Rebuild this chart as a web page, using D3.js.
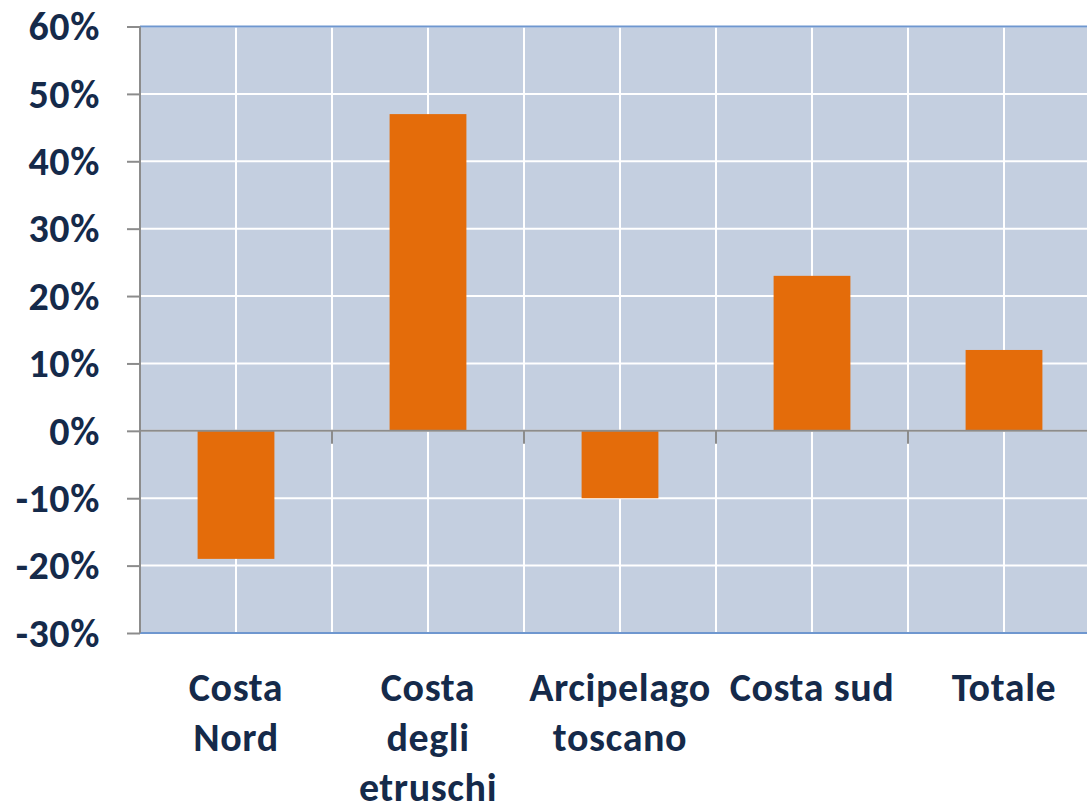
<!DOCTYPE html>
<html>
<head>
<meta charset="utf-8">
<script src="https://cdn.jsdelivr.net/npm/d3@7/dist/d3.min.js"></script>
<style>
  html, body { margin: 0; padding: 0; background: #ffffff; }
  svg { display: block; }
  text { font-family: Carlito, Calibri, Lato, sans-serif; font-weight: 700; fill: #152a4a; }
</style>
</head>
<body>
<svg id="chart" width="1087" height="805"></svg>
<script>
const categories = ["Costa Nord", "Costa degli etruschi", "Arcipelago toscano", "Costa sud", "Totale"];
const labelLines = [["Costa", "Nord"], ["Costa", "degli", "etruschi"], ["Arcipelago", "toscano"], ["Costa sud"], ["Totale"]];
const values = [-0.19, 0.47, -0.10, 0.23, 0.12];
const yTicks = [-0.3, -0.2, -0.1, 0, 0.1, 0.2, 0.3, 0.4, 0.5, 0.6];

const svg = d3.select("#chart");
const pLeft = 140, pRight = 1100, pTop = 26.5, pBottom = 633;
const fontSize = 40, letterSp = 0.6;

const x = d3.scaleBand().domain(categories).range([pLeft, pRight]).paddingInner(0.6).paddingOuter(0.3);
const xFull = d3.scaleBand().domain(categories).range([pLeft, pRight]).padding(0);
const y = d3.scaleLinear().domain([-0.3, 0.6]).range([pBottom, pTop]);

// plot background
svg.append("rect").attr("x", pLeft).attr("y", pTop).attr("width", pRight - pLeft).attr("height", pBottom - pTop).attr("fill", "#c4cfe0");

// horizontal grid
svg.append("g").selectAll("line").data(yTicks).join("line")
  .attr("x1", pLeft).attr("x2", pRight)
  .attr("y1", d => y(d)).attr("y2", d => y(d))
  .attr("stroke", "#ffffff").attr("stroke-width", 2);

// vertical grid: category centers and boundaries
const vLines = [];
categories.forEach(c => {
  vLines.push(xFull(c) + xFull.bandwidth() / 2);
  vLines.push(xFull(c) + xFull.bandwidth());
});
svg.append("g").selectAll("line").data(vLines).join("line")
  .attr("x1", d => d).attr("x2", d => d)
  .attr("y1", pTop).attr("y2", pBottom)
  .attr("stroke", "#ffffff").attr("stroke-width", 2);

// top and bottom borders
[pTop, pBottom].forEach(v => {
  svg.append("line").attr("x1", pLeft).attr("x2", pRight).attr("y1", v).attr("y2", v)
    .attr("stroke", "#6f97cf").attr("stroke-width", 2);
});

// bars
svg.append("g").selectAll("rect").data(values).join("rect")
  .attr("x", (d, i) => x(categories[i]))
  .attr("width", x.bandwidth())
  .attr("y", d => y(Math.max(0, d)))
  .attr("height", d => Math.abs(y(d) - y(0)))
  .attr("fill", "#e46c0a");

// zero axis
svg.append("line").attr("x1", pLeft).attr("x2", pRight).attr("y1", y(0)).attr("y2", y(0))
  .attr("stroke", "#8c8c8c").attr("stroke-width", 2);
// zero-axis tick marks at category boundaries
svg.append("g").selectAll("line").data(categories.slice(0, -1)).join("line")
  .attr("x1", c => xFull(c) + xFull.bandwidth()).attr("x2", c => xFull(c) + xFull.bandwidth())
  .attr("y1", y(0)).attr("y2", y(0) + 13)
  .attr("stroke", "#8c8c8c").attr("stroke-width", 2);

// y axis
const yAxis = d3.axisLeft(y).tickValues(yTicks).tickSize(13).tickPadding(27)
  .tickFormat(d => Math.round(d * 100) + "%");
const ga = svg.append("g").attr("transform", `translate(${pLeft},0)`).call(yAxis);
ga.select(".domain").attr("stroke", "#8c8c8c").attr("stroke-width", 2).attr("d", `M0,${pTop}V${pBottom}`);
ga.selectAll(".tick line").attr("stroke", "#8c8c8c").attr("stroke-width", 2);
ga.selectAll(".tick text").attr("font-size", fontSize).attr("dy", "0.33em").attr("fill", "#152a4a")
  .attr("letter-spacing", letterSp)
  .style("font-family", "Carlito, Calibri, Lato, sans-serif").style("font-weight", 700);

// category labels
const lg = svg.append("g");
categories.forEach((c, i) => {
  const cx = xFull(c) + xFull.bandwidth() / 2;
  const t = lg.append("text").attr("text-anchor", "middle").attr("font-size", fontSize)
    .attr("letter-spacing", letterSp)
    .attr("x", cx).attr("y", 701);
  labelLines[i].forEach((ln, j) => {
    t.append("tspan").attr("x", cx).attr("dy", j === 0 ? 0 : 50).text(ln);
  });
});
</script>
</body>
</html>
